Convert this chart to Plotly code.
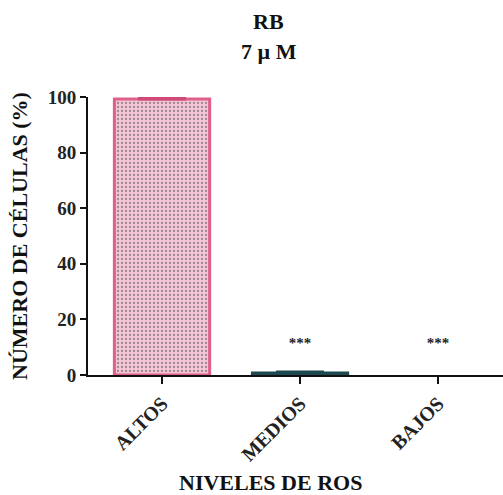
import plotly.graph_objects as go

categories = ["ALTOS", "MEDIOS", "BAJOS"]
values = [99.3, 0.7, 0.0]
errors = [0.5, 0.4, 0.0]
significance = ["", "***", "***"]
y_ticks = [0, 20, 40, 60, 80, 100]

fill_colors = ["#f4c6d7", "#2a5a60", "rgba(0,0,0,0)"]
line_colors = ["#de5f88", "#1d4a50", "rgba(0,0,0,0)"]
error_colors = ["#d04a76", "#1d4a50"]

serif = "Liberation Serif, Times New Roman, serif"

fig = go.Figure()

# bars (error bars drawn as separate traces so each can carry its own colour)
fig.add_trace(go.Bar(
    x=categories,
    y=values,
    width=0.69,
    marker=dict(
        color=fill_colors,
        line=dict(color=line_colors, width=3),
        pattern=dict(shape=[".", "", ""], fgcolor="#e7a0bb", bgcolor="#f6d3e0",
                     size=4, solidity=0.25),
    ),
    cliponaxis=False,
    showlegend=False,
))

for i in range(2):
    fig.add_trace(go.Scatter(
        x=[categories[i]],
        y=[values[i]],
        mode="markers",
        marker=dict(size=1, color="rgba(0,0,0,0)"),
        error_y=dict(type="data", array=[errors[i]], arrayminus=[0], visible=True,
                     color=error_colors[i], thickness=3, width=24),
        showlegend=False,
        cliponaxis=False,
        hoverinfo="skip",
    ))

# significance marks
fig.add_trace(go.Scatter(
    x=categories,
    y=[11, 11, 11],
    mode="text",
    text=[f"<b>{s}</b>" for s in significance],
    textfont=dict(family=serif, size=15, color="#222"),
    showlegend=False,
    cliponaxis=False,
))

fig.update_layout(
    width=503, height=495,
    margin=dict(l=88, r=0, t=97, b=120),
    paper_bgcolor="white", plot_bgcolor="white",
    annotations=[
        dict(text="<b>RB</b>", xref="paper", yref="paper", x=0.435, y=1.271,
             xanchor="center", yanchor="middle", showarrow=False,
             font=dict(family=serif, size=22, color="#111")),
        dict(text="<b>7 µ M</b>", xref="paper", yref="paper", x=0.435, y=1.163,
             xanchor="center", yanchor="middle", showarrow=False,
             font=dict(family=serif, size=22, color="#111")),
        dict(text="<b>NIVELES DE ROS</b>", xref="paper", yref="paper", x=0.4386, y=-0.385,
             xanchor="center", yanchor="middle", showarrow=False,
             font=dict(family=serif, size=22, color="#111")),
    ],
)

fig.update_xaxes(
    range=[-0.536, 2.47],
    tickvals=categories,
    ticktext=[f"<b>{c}</b>" for c in categories],
    showline=True, linecolor="#111", linewidth=2,
    ticks="outside", ticklen=7, tickwidth=2, tickcolor="#111",
    tickangle=-45,
    tickfont=dict(family=serif, size=20, color="#222"),
    showgrid=False, zeroline=False,
)

fig.update_yaxes(
    range=[0, 100],
    tickvals=y_ticks,
    ticktext=[f"<b>{t}</b>" for t in y_ticks],
    showline=True, linecolor="#111", linewidth=2,
    ticks="outside", ticklen=6, tickwidth=2, tickcolor="#111",
    tickfont=dict(family=serif, size=19, color="#222"),
    title=dict(text="<b>NÚMERO DE CÉLULAS (%)</b>", standoff=14,
               font=dict(family=serif, size=22, color="#111")),
    showgrid=False, zeroline=False,
)

fig.write_html("out.html")
